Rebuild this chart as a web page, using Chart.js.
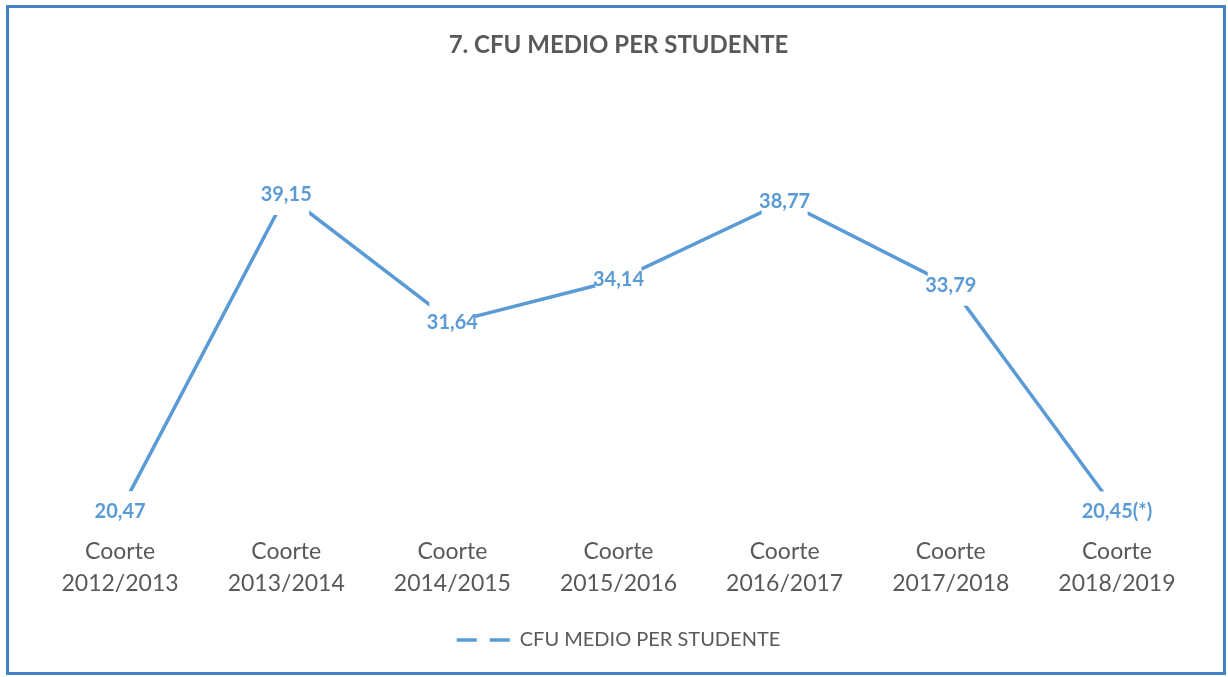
<!DOCTYPE html>
<html>
<head>
<meta charset="utf-8">
<script src="https://cdn.jsdelivr.net/npm/chart.js@4/dist/chart.umd.min.js"></script>
<style>
  html, body { margin: 0; padding: 0; background: #ffffff; }
  #wrap { width: 1228px; height: 677px; }
</style>
</head>
<body>
<div id="wrap"><canvas id="c" width="1228" height="677"></canvas></div>
<script>
// ---- data ----
const cohortWord = 'Coorte';
const cohortYears = ['2012/2013', '2013/2014', '2014/2015', '2015/2016', '2016/2017', '2017/2018', '2018/2019'];
const cfuMedio = [20.47, 39.15, 31.64, 34.14, 38.77, 33.79, 20.45];
const valueNotes = ['', '', '', '', '', '', '(*)'];
const seriesName = 'CFU MEDIO PER STUDENTE';
const chartTitle = '7. CFU MEDIO PER STUDENTE';

const categories = cohortYears.map(y => [cohortWord, y]);
const formatValue = (v, i) => v.toFixed(2).replace('.', ',') + valueNotes[i];

const BLUE = '#5b9bd5';
const GRAY = '#595959';
const FONT = "Lato, 'Open Sans', 'DejaVu Sans', sans-serif";

const frame = {
  id: 'frame',
  beforeDraw(chart) {
    const ctx = chart.ctx;
    ctx.save();
    ctx.fillStyle = '#ffffff';
    ctx.fillRect(0, 0, chart.width, chart.height);
    ctx.strokeStyle = '#4382c4';
    ctx.lineWidth = 3;
    ctx.strokeRect(7.5, 6.5, 1217, 667);
    ctx.restore();
  }
};

const valueLabels = {
  id: 'valueLabels',
  afterDatasetsDraw(chart) {
    const ctx = chart.ctx;
    const meta = chart.getDatasetMeta(0);
    const data = chart.data.datasets[0].data;
    ctx.save();
    meta.data.forEach((pt, i) => {
      ctx.fillStyle = '#ffffff';
      ctx.fillRect(pt.x - 23, pt.y - 20, 46, 40);
      ctx.font = "bold 20px " + FONT;
      ctx.fillStyle = BLUE;
      ctx.textAlign = 'center';
      ctx.textBaseline = 'middle';
      ctx.fillText(formatValue(data[i], i), pt.x, pt.y);
    });
    ctx.restore();
  }
};

new Chart(document.getElementById('c'), {
  type: 'line',
  data: {
    labels: categories,
    datasets: [{
      label: seriesName,
      data: cfuMedio,
      borderColor: BLUE,
      backgroundColor: BLUE,
      borderWidth: 3.5,
      pointRadius: 0,
      pointHoverRadius: 0,
      tension: 0,
      fill: false
    }]
  },
  options: {
    responsive: false,
    devicePixelRatio: 1,
    animation: false,
    events: [],
    layout: { padding: { left: 37, right: 28, top: 0, bottom: 17 }, autoPadding: false },
    scales: {
      x: {
        offset: true,
        grid: { display: false, drawTicks: false },
        border: { display: false },
        ticks: {
          padding: 0,
          maxRotation: 0,
          autoSkip: false,
          color: GRAY,
          font: { family: FONT, size: 23, lineHeight: '32px' }
        },
        afterFit(scale) { scale.height = 84; }
      },
      y: {
        display: false,
        min: 19,
        max: 45
      }
    },
    plugins: {
      title: {
        display: true,
        text: chartTitle,
        color: GRAY,
        font: { family: FONT, size: 24, weight: 'bold', lineHeight: 1.2 },
        padding: { top: 30.6, bottom: 36.6 }
      },
      legend: {
        display: true,
        position: 'bottom',
        labels: {
          color: GRAY,
          font: { family: FONT, size: 20 },
          padding: 10,
          usePointStyle: true,
          pointStyle: 'line',
          pointStyleWidth: 53,
          generateLabels(chart) {
            const items = Chart.defaults.plugins.legend.labels.generateLabels(chart);
            items.forEach(it => {
              it.lineDash = [20, 13];
              it.lineWidth = 3.5;
              it.strokeStyle = BLUE;
              it.pointStyle = 'line';
            });
            return items;
          }
        }
      },
      tooltip: { enabled: false }
    }
  },
  plugins: [frame, valueLabels]
});
</script>
</body>
</html>
